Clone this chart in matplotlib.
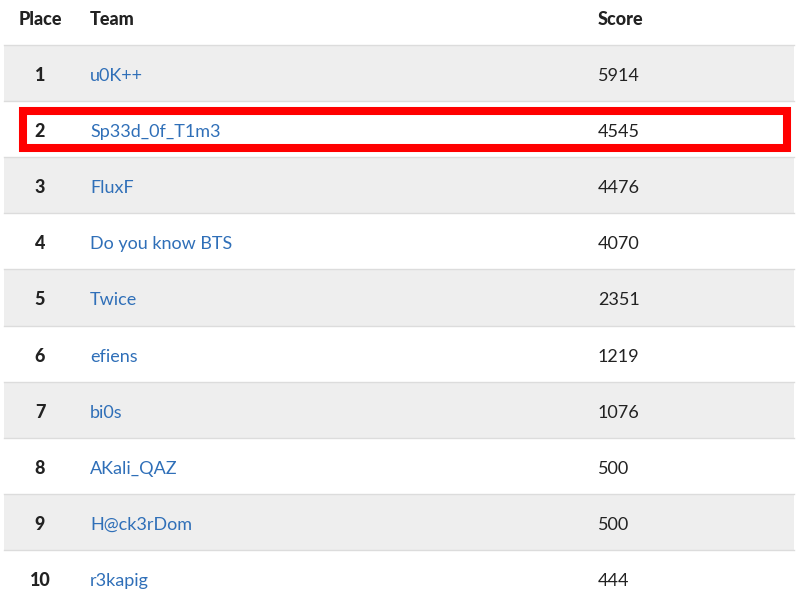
import matplotlib
matplotlib.use("Agg")
import matplotlib.pyplot as plt
from matplotlib.patches import Rectangle

headers = ["Place", "Team", "Score"]
places = [1, 2, 3, 4, 5, 6, 7, 8, 9, 10]
teams = ["u0K++", "Sp33d_0f_T1m3", "FluxF", "Do you know BTS", "Twice",
         "efiens", "bi0s", "AKali_QAZ", "H@ck3rDom", "r3kapig"]
scores = [5914, 4545, 4476, 4070, 2351, 1219, 1076, 500, 500, 444]
highlight_place = 2

W, H = 800, 599
fig = plt.figure(figsize=(W / 100, H / 100), dpi=100)
ax = fig.add_axes([0, 0, 1, 1])
ax.set_xlim(0, W)
ax.set_ylim(H, 0)
ax.axis("off")

plt.rcParams['font.family'] = ['Lato', 'DejaVu Sans']

left, right = 4, 794
top = 45
rh = 56.1
x_place, x_team, x_score = 40, 90, 598
fs = 13
dark = "#222222"
blue = "#2f6fb8"
band = "#eeeeee"
line_c = "#dcdcdc"

# header
ax.text(x_place, 25, headers[0], ha="center", va="baseline", fontsize=fs,
        fontweight="black", color=dark)
ax.text(x_team, 25, headers[1], ha="left", va="baseline", fontsize=fs,
        fontweight="black", color=dark)
ax.text(x_score, 25, headers[2], ha="left", va="baseline", fontsize=fs,
        fontweight="black", color=dark)

for i, (p, t, s) in enumerate(zip(places, teams, scores)):
    y0 = top + i * rh
    if i % 2 == 0:
        ax.add_patch(Rectangle((left, y0), right - left, rh, facecolor=band,
                               edgecolor="none", zorder=0))
    ax.plot([left, right], [y0, y0], color=line_c, lw=1.0, zorder=1)
    base = y0 + 36
    ax.text(x_place, base, str(p), ha="center", va="baseline", fontsize=fs,
            fontweight="black", color=dark, zorder=3)
    ax.text(x_team, base, t, ha="left", va="baseline", fontsize=fs,
            color=blue, zorder=3)
    ax.text(x_score, base, str(s), ha="left", va="baseline", fontsize=fs,
            color=dark, zorder=3)
    if p == highlight_place:
        ax.add_patch(Rectangle((22.5, y0 + 10), 764, 36.5, facecolor="none",
                               edgecolor="#ff0000", lw=5.8, zorder=4,
                               joinstyle="miter"))

fig.savefig("out.png", dpi=100)
